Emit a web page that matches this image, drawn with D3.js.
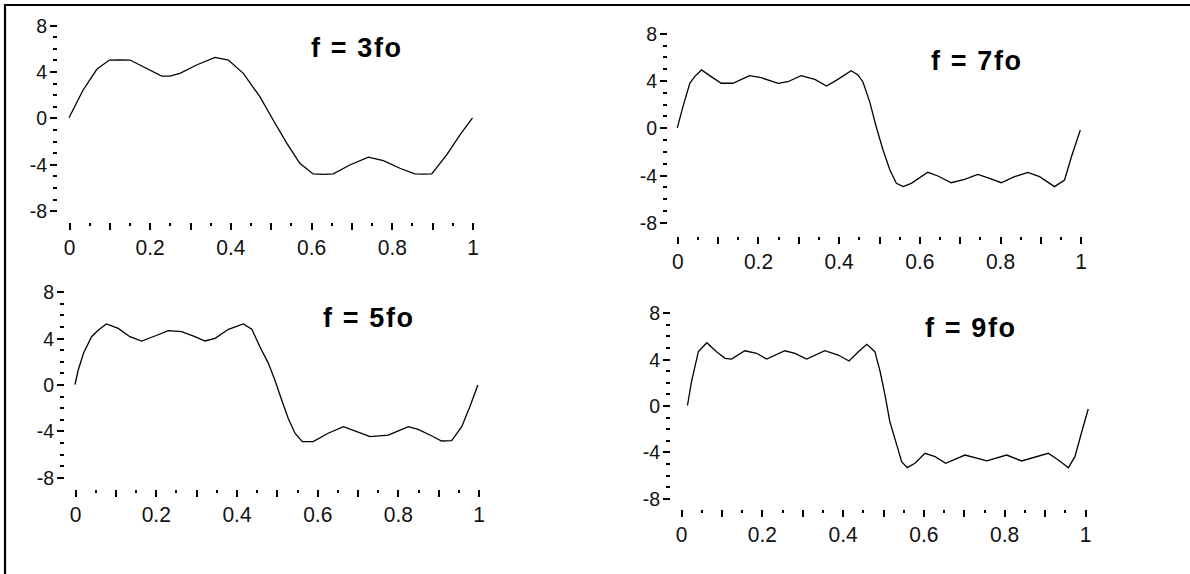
<!DOCTYPE html>
<html>
<head>
<meta charset="utf-8">
<script src="https://cdn.jsdelivr.net/npm/d3@7"></script>
<style>
  html, body { margin: 0; padding: 0; background: #fff; }
  svg { display: block; }
  .tick line { stroke: #000; }
  .tick text { fill: #111; font-family: "Liberation Sans", Arial, sans-serif; }
  .title { font-family: "Liberation Sans", Arial, sans-serif; font-weight: bold; fill: #000; }
</style>
</head>
<body>
<svg id="chart" width="1190" height="574"></svg>
<script>
// Partial Fourier sums of a square wave, for 3, 5, 7 and 9 harmonics.
const titles = ["f = 3fo", "f = 7fo", "f = 5fo", "f = 9fo"];

const yMajorTicks = [-8, -4, 0, 4, 8];
const yMinorTicks = [-7, -6, -5, -3, -2, -1, 1, 2, 3, 5, 6, 7];
const xMajorTicks = [0, 0.1, 0.2, 0.3, 0.4, 0.5, 0.6, 0.7, 0.8, 0.9, 1];
const xMinorTicks = [0.05, 0.15, 0.25, 0.35, 0.45, 0.55, 0.65, 0.75, 0.85, 0.95];
const xTickLabels = { 0: "0", 0.2: "0.2", 0.4: "0.4", 0.6: "0.6", 0.8: "0.8", 1: "1" };

// f = 3fo
const t3 = [0, 0.035, 0.069, 0.10, 0.125, 0.151, 0.184, 0.23, 0.25, 0.275, 0.316, 0.362, 0.395, 0.432,
            0.473, 0.506, 0.54, 0.572, 0.605, 0.63, 0.655, 0.696, 0.742, 0.779, 0.82, 0.857, 0.878,
            0.899, 0.936, 0.969, 1.0];
const v3 = [0, 2.4, 4.18, 4.98, 5.0, 4.98, 4.4, 3.6, 3.6, 3.83, 4.55, 5.2, 4.98, 3.83,
            1.82, -0.19, -2.2, -3.92, -4.84, -4.87, -4.84, -4.07, -3.4, -3.7, -4.35, -4.84, -4.86,
            -4.84, -3.2, -1.48, 0];

// f = 7fo
const t7 = [0, 0.014, 0.031, 0.043, 0.06, 0.084, 0.109, 0.138, 0.179, 0.208, 0.25, 0.274, 0.307, 0.341,
            0.37, 0.398, 0.431, 0.448, 0.46, 0.477, 0.493, 0.51, 0.527, 0.543, 0.56, 0.58, 0.621,
            0.646, 0.679, 0.712, 0.745, 0.774, 0.803, 0.836, 0.869, 0.898, 0.935, 0.96, 0.977, 0.999];
const v7 = [0, 1.79, 3.77, 4.33, 4.9, 4.33, 3.77, 3.77, 4.41, 4.24, 3.77, 3.9, 4.41, 4.1,
            3.54, 4.1, 4.83, 4.47, 3.9, 2.2, 0.09, -1.88, -3.57, -4.7, -4.98, -4.7, -3.77,
            -4.08, -4.65, -4.36, -3.94, -4.28, -4.65, -4.14, -3.77, -4.14, -4.98, -4.42, -2.45, -0.19];

// f = 5fo
const t5 = [0, 0.008, 0.021, 0.041, 0.058, 0.078, 0.107, 0.136, 0.165, 0.198, 0.231, 0.264, 0.297, 0.322,
            0.347, 0.38, 0.417, 0.438, 0.458, 0.479, 0.495, 0.512, 0.528, 0.545, 0.563, 0.59, 0.627,
            0.665, 0.698, 0.731, 0.776, 0.801, 0.826, 0.85, 0.884, 0.908, 0.933, 0.958, 0.978, 0.998];
const v5 = [0, 1.25, 2.69, 4.12, 4.7, 5.22, 4.84, 4.12, 3.75, 4.18, 4.64, 4.55, 4.12, 3.75,
            3.98, 4.76, 5.22, 4.76, 3.26, 1.82, 0.39, -1.34, -2.91, -4.2, -4.93, -4.93, -4.2,
            -3.64, -4.07, -4.5, -4.36, -3.99, -3.64, -3.87, -4.44, -4.87, -4.84, -3.64, -1.92, -0.04];

// f = 9fo
const t9 = [0.016, 0.026, 0.043, 0.064, 0.088, 0.109, 0.125, 0.158, 0.187, 0.212, 0.257, 0.282, 0.311, 0.356,
            0.389, 0.416, 0.439, 0.46, 0.48, 0.493, 0.505, 0.517, 0.534, 0.546, 0.56, 0.579, 0.604,
            0.629, 0.655, 0.703, 0.757, 0.806, 0.843, 0.909, 0.934, 0.959, 0.975, 0.992, 1.008];
const v9 = [0, 2.05, 4.64, 5.41, 4.64, 4.07, 4.0, 4.72, 4.5, 4.0, 4.72, 4.5, 4.0, 4.72,
            4.35, 3.84, 4.64, 5.28, 4.64, 2.91, 0.9, -1.4, -3.4, -4.84, -5.36, -4.98, -4.12,
            -4.41, -4.98, -4.27, -4.78, -4.27, -4.78, -4.12, -4.7, -5.36, -4.41, -2.26, -0.3];

const panels = [
  { t: t3, v: v3, title: titles[0], x0: 69,    x1: 472.5,  yTop: 25,    yBot: 210.6, axisX: 57,  axisY: 223, tx: 311, ty: 57 },
  { t: t7, v: v7, title: titles[1], x0: 677.3, x1: 1080.7, yTop: 33.3,  yBot: 222.3, axisX: 667, axisY: 237, tx: 931, ty: 70 },
  { t: t5, v: v5, title: titles[2], x0: 75,    x1: 478.7,  yTop: 291.7, yBot: 477.3, axisX: 64,  axisY: 490, tx: 323, ty: 327 },
  { t: t9, v: v9, title: titles[3], x0: 681,   x1: 1085,   yTop: 312.7, yBot: 498.3, axisX: 670, axisY: 510, tx: 925, ty: 337 }
];

const svg = d3.select("#chart");

// outer frame: top and left edges only
svg.append("path")
  .attr("d", "M5,574 L5,5 L1190,5")
  .attr("fill", "none")
  .attr("stroke", "#000")
  .attr("stroke-width", 2.2);

panels.forEach(p => {
  const x = d3.scaleLinear().domain([0, 1]).range([p.x0, p.x1]);
  const y = d3.scaleLinear().domain([-8, 8]).range([p.yBot, p.yTop]);
  const g = svg.append("g");

  // y axis, major ticks with labels
  const yMaj = g.append("g")
    .attr("transform", `translate(${p.axisX},0)`)
    .call(d3.axisLeft(y).tickValues(yMajorTicks).tickSize(7).tickPadding(3).tickFormat(d => String(d)));
  yMaj.select(".domain").remove();
  yMaj.selectAll(".tick text").attr("font-size", 19.5).attr("dy", "0.36em");

  // y axis, minor ticks
  const yMin = g.append("g")
    .attr("transform", `translate(${p.axisX},0)`)
    .call(d3.axisLeft(y).tickValues(yMinorTicks).tickSize(4).tickFormat(""));
  yMin.select(".domain").remove();

  // x axis, major ticks
  const xMaj = g.append("g")
    .attr("transform", `translate(0,${p.axisY})`)
    .call(d3.axisBottom(x).tickValues(xMajorTicks).tickSize(7)
      .tickFormat(d => xTickLabels[Math.round(d * 10) / 10] || ""));
  xMaj.select(".domain").remove();
  xMaj.selectAll(".tick text")
    .attr("font-size", 21)
    .attr("y", null)
    .attr("dy", null)
    .attr("dominant-baseline", "central")
    .attr("transform", "translate(0,24) scale(1,1.08)");

  // x axis, minor ticks
  const xMin = g.append("g")
    .attr("transform", `translate(0,${p.axisY})`)
    .call(d3.axisBottom(x).tickValues(xMinorTicks).tickSize(3).tickFormat(""));
  xMin.select(".domain").remove();

  g.selectAll(".tick line")
    .attr("stroke-width", 2)
    .attr("shape-rendering", "crispEdges");

  // curve
  const pts = p.t.map((tv, i) => [tv, p.v[i]]);
  g.append("path")
    .datum(pts)
    .attr("fill", "none")
    .attr("stroke", "#000")
    .attr("stroke-width", 1.3)
    .attr("d", d3.line().x(d => x(d[0])).y(d => y(d[1])));

  // title
  g.append("text")
    .attr("class", "title")
    .attr("x", p.tx)
    .attr("y", p.ty)
    .attr("font-size", 27)
    .attr("textLength", 90)
    .attr("lengthAdjust", "spacing")
    .text(p.title);
});
</script>
</body>
</html>
